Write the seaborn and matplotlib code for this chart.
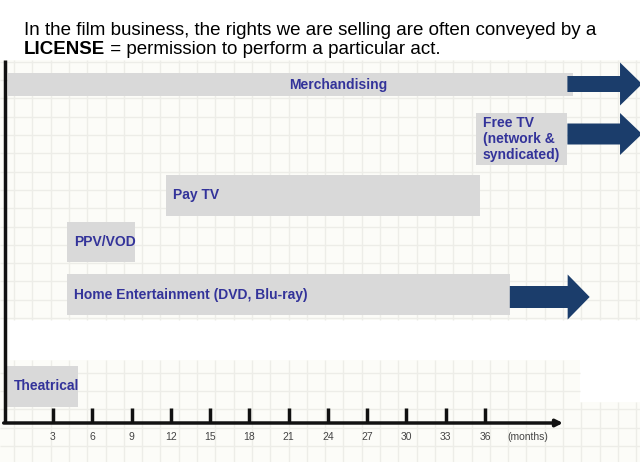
import numpy as np
import matplotlib
matplotlib.use("Agg")
import matplotlib.pyplot as plt
from matplotlib.patches import Polygon, Rectangle
import seaborn as sns

# release windows (months after release)
windows = ["Merchandising", "Free TV\n(network &\nsyndicated)", "Pay TV", "PPV/VOD",
           "Home Entertainment (DVD, Blu-ray)", "Theatrical"]
starts = [-0.4, 35.3, 11.6, 4.1, 4.1, -0.5]
ends = [42.7, 42.3, 35.6, 9.3, 37.9, 4.9]
# open-ended windows get an arrow
arrow_from = [42.3, 42.3, np.nan, np.nan, 37.9, np.nan]
arrow_to = [48.0, 48.0, np.nan, np.nan, 44.0, np.nan]
month_ticks = [3, 6, 9, 12, 15, 18, 21, 24, 27, 30, 33, 36]

# layout (pixels)
lane_y = [84.5, 139, 195.5, 242, 294.5, 386.5]
lane_h = [23, 52, 41, 40, 41, 41]
arrow_y = [84, 134, 0, 0, 297, 0]
body_h = [16, 21, 0, 0, 22, 0]
head_h = [43, 42, 0, 0, 45, 0]
HEAD_LEN = 22
PPM = 13.09          # pixels per month
X0 = 13.7            # pixel of month 0
AXIS_Y = 423

GREY = "#d9d9d9"
NAVY = "#1b3d6b"
LABEL = "#33339a"

sns.set_theme(style="white")
plt.rcParams["font.family"] = ["Liberation Sans", "DejaVu Sans"]

fig = plt.figure(figsize=(6.4, 4.62), dpi=100)
fig.patch.set_facecolor("white")

# graph-paper background
bg = fig.add_axes([0, 0, 1, 1])
bg.set_xlim(0, 640)
bg.set_ylim(462, 0)
bg.axis("off")
regions = [(0, 60, 640, 320), (0, 360, 580, 462), (580, 402, 640, 462)]
for x1, y1, x2, y2 in regions:
    bg.add_patch(Rectangle((x1, y1), x2 - x1, y2 - y1, color="#fcfcf8", lw=0))
    xs = [x for x in np.arange(14 - 18.3, 660, 18.3) if x1 <= x <= x2]
    ys = [y for y in np.arange(61.8, 470, 18.3) if y1 <= y <= y2]
    bg.vlines(xs, y1, y2, color="#ededE8", lw=1)
    bg.hlines(ys, x1, x2, color="#ededE8", lw=1)

ax = fig.add_axes([0, 0, 1, 1])
ax.patch.set_alpha(0)
ax.set_xlim(-X0 / PPM, (640 - X0) / PPM)
ax.set_ylim(462, 0)
ax.axis("off")

widths = [e - s for s, e in zip(starts, ends)]
ax.barh(lane_y, widths, left=starts, height=lane_h, color=GREY, lw=0, zorder=2)

for i, name in enumerate(windows):
    if name == "Merchandising":
        ax.text((338 - X0) / PPM, lane_y[i], name, ha="center", va="center",
                color=LABEL, fontsize=10, fontweight="bold", zorder=4)
    else:
        ax.text(starts[i] + 7 / PPM, lane_y[i], name, ha="left", va="center",
                color=LABEL, fontsize=10, fontweight="bold", zorder=4,
                linespacing=1.22)
    if not np.isnan(arrow_from[i]):
        a, b = arrow_from[i], arrow_to[i]
        hb = b - HEAD_LEN / PPM
        c, bh, hh = arrow_y[i], body_h[i] / 2, head_h[i] / 2
        verts = [(a, c - bh), (hb, c - bh), (hb, c - hh), (b, c),
                 (hb, c + hh), (hb, c + bh), (a, c + bh)]
        ax.add_patch(Polygon(verts, closed=True, color=NAVY, lw=0, zorder=3))

# time axis
y_axis_x = (5 - X0) / PPM
ax.plot([y_axis_x, y_axis_x], [60, AXIS_Y], color="#111111", lw=2.5,
        solid_capstyle="butt", zorder=5)
ax.annotate("", xy=((563 - X0) / PPM, AXIS_Y), xytext=(y_axis_x - 0.1, AXIS_Y),
            arrowprops=dict(arrowstyle="-|>", lw=2.5, color="#111111",
                            mutation_scale=10, shrinkA=0, shrinkB=0), zorder=5)
ax.vlines(month_ticks, AXIS_Y - 15, AXIS_Y, color="#111111", lw=2.5, zorder=5)
for m in month_ticks:
    ax.text(m, 437, str(m), ha="center", va="center", fontsize=7.5, color="#444444")
ax.text((507 - X0) / PPM, 437, "(months)", ha="left", va="center",
        fontsize=7.5, color="#444444")

# heading
fig.text(24 / 640, 1 - 35 / 462,
         "In the film business, the rights we are selling are often conveyed by a",
         fontsize=13.5, color="black", va="baseline")
lic = fig.text(24 / 640, 1 - 54 / 462, "LICENSE", fontsize=13.5, fontweight="bold",
               color="black", va="baseline")
fig.canvas.draw()
bb = lic.get_window_extent()
fig.text(bb.x1 / 640, 1 - 54 / 462, " = permission to perform a particular act.",
         fontsize=13.5, color="black", va="baseline")

fig.savefig("out.png", dpi=100)
